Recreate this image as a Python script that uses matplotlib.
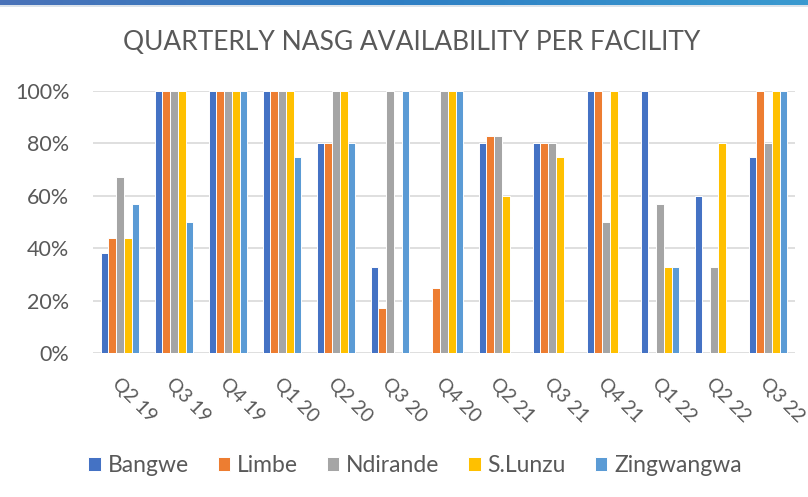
import matplotlib
matplotlib.use("Agg")
import matplotlib.pyplot as plt
import numpy as np
from matplotlib.ticker import PercentFormatter
from matplotlib.colors import LinearSegmentedColormap

quarters = ["Q2 19", "Q3 19", "Q4 19", "Q1 20", "Q2 20", "Q3 20", "Q4 20",
            "Q2 21", "Q3 21", "Q4 21", "Q1 22", "Q2 22", "Q3 22"]
bangwe     = [38, 100, 100, 100, 80, 33, 0, 80, 80, 100, 100, 60, 75]
limbe      = [44, 100, 100, 100, 80, 17, 25, 83, 80, 100, 0, 0, 100]
ndirande   = [67, 100, 100, 100, 100, 100, 100, 83, 80, 50, 57, 33, 80]
s_lunzu    = [44, 100, 100, 100, 100, 0, 100, 60, 75, 100, 33, 80, 100]
zingwangwa = [57, 50, 100, 75, 80, 100, 100, 0, 0, 0, 33, 0, 100]

series = [("Bangwe", bangwe, "#4472C4"),
          ("Limbe", limbe, "#ED7D31"),
          ("Ndirande", ndirande, "#A5A5A5"),
          ("S.Lunzu", s_lunzu, "#FFC000"),
          ("Zingwangwa", zingwangwa, "#5B9BD5")]

plt.rcParams['font.family'] = ['Lato', 'DejaVu Sans']
txt = "#595959"

fig = plt.figure(figsize=(8.08, 4.97), dpi=100)

# top gradient banner
bax = fig.add_axes([0, 1 - 5/497, 1, 5/497])
grad = np.linspace(0, 1, 256).reshape(1, -1)
cmap = LinearSegmentedColormap.from_list("b", ["#4A72B8", "#2E7FC4", "#3A9AD0"])
bax.imshow(grad, aspect="auto", cmap=cmap)
bax.axis("off")
lax = fig.add_axes([0, 1 - 7/497, 1, 2/497])
lax.set_facecolor("#DCE3EA")
lax.set_xticks([]); lax.set_yticks([])
for s in lax.spines.values():
    s.set_visible(False)

ax = fig.add_axes([93/808, 1 - 353/497, 702/808, 262/497])
x = np.arange(len(quarters))
n = len(series)
w = 0.72 / n
for i, (name, vals, col) in enumerate(series):
    ax.bar(x + (i - (n - 1) / 2) * w, np.array(vals) / 100.0, width=w,
           color=col, edgecolor="white", linewidth=0.7, label=name, zorder=3)

ax.set_ylim(0, 1)
ax.set_xlim(-0.5, len(quarters) - 0.5)
ax.set_yticks(np.arange(0, 1.01, 0.2))
ax.yaxis.set_major_formatter(PercentFormatter(1.0, decimals=0))
ax.grid(axis="y", color="#D9D9D9", linewidth=1.2, zorder=0)
ax.set_axisbelow(True)
for s in ax.spines.values():
    s.set_visible(False)
ax.tick_params(axis="y", length=0, pad=17, labelsize=15.5, labelcolor=txt)
ax.tick_params(axis="x", length=0)
ax.set_xticks(x)
ax.set_xticklabels([])
for xi, q in zip(x, quarters):
    ax.text(xi - 0.09, -0.105, q, rotation=-45, rotation_mode="anchor",
            ha="left", va="center", fontsize=14, color=txt,
            transform=ax.get_xaxis_transform())

fig.text(412/808, 1 - 43/497, "QUARTERLY NASG AVAILABILITY PER FACILITY",
         ha="center", va="center", fontsize=19, color=txt)

leg = fig.legend(loc="center", bbox_to_anchor=(415/808, 1 - 466/497), ncol=5,
                 frameon=False, fontsize=16.5, handlelength=0.55, handleheight=0.55,
                 handletextpad=0.3, columnspacing=1.25)
for t in leg.get_texts():
    t.set_color(txt)

fig.savefig("out.png", dpi=100)
